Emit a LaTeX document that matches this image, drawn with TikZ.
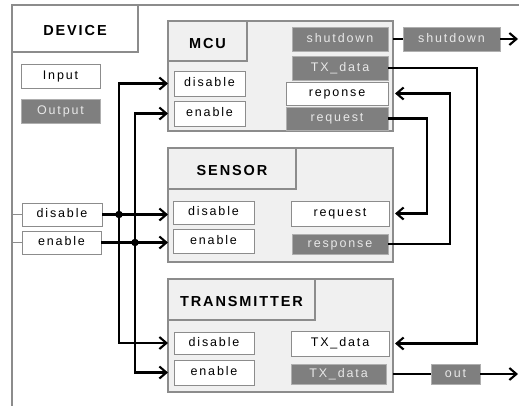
\documentclass[tikz,border=0pt]{standalone}
\usepackage{fontspec}
\setmainfont{Liberation Sans}
\newfontfamily\lblfont[LetterSpace=15]{Liberation Sans}
\newfontfamily\ttlfont[LetterSpace=13]{Liberation Sans}
\usetikzlibrary{arrows.meta,calc}
\definecolor{framegray}{HTML}{8C8C8C}
\definecolor{modfill}{HTML}{F0F0F0}
\definecolor{outfill}{HTML}{7F7F7F}
\definecolor{outtext}{HTML}{E8E8E8}
\newcommand\lowtitle[1]{\lower3.5pt\hbox{#1}}
\begin{document}
\begin{tikzpicture}[x=1pt,y=-1pt,
  box/.style 2 args={minimum width=#1,minimum height=#2,inner sep=0pt,outer sep=0pt,anchor=north west},
  lbl/.style={font=\lblfont\fontsize{12.5}{14}\selectfont,text height=1.5ex,text depth=0.25ex},
  inport/.style={lbl,draw=framegray,line width=0.9pt,fill=white},
  outport/.style={lbl,draw=framegray!70,line width=0.9pt,fill=outfill,text=outtext},
  module/.style={draw=framegray,line width=1.6pt,fill=modfill},
  ttl/.style={draw=framegray,line width=1.6pt,fill=modfill,text height=1.38ex,text depth=0pt,font=\ttlfont\bfseries\fontsize{14.5}{16}\selectfont},
  wire/.style={line width=2.1pt},
  arr/.style={-{Straight Barb[length=7pt,width=12pt]}},
  junction/.style={circle,fill,inner sep=0pt,minimum size=7.5pt}]
\useasboundingbox (0,0) rectangle (519,405);
\fill[white] (0,0) rectangle (519,405);
\clip (0,0) rectangle (519,405);
% device frame
\draw[framegray,line width=1.6pt] (12,420) -- (12,5) -- (530,5);
\node[ttl,box={126}{47},fill=white] (devt) at (12,5) {\lowtitle{DEVICE}};
\node[inport,box={79}{24}] (leg1) at (21,64) {Input};
\node[outport,box={79}{24}] (leg2) at (21,99) {Output};
% MCU
\node[module,box={225}{110}] (mcu) at (168,21) {};
\node[ttl,box={79}{40}] (mcut) at (168,21) {\lowtitle{MCU}};
\node[inport,box={71}{25}] (mcudis) at (174,71) {disable};
\node[inport,box={71}{25}] (mcuen) at (174,101) {enable};
\node[outport,box={96}{24}] (mcushut) at (292,27) {shutdown};
\node[outport,box={96}{24}] (mcutx) at (292,56) {TX\_data};
\node[inport,box={102}{23}] (mcuresp) at (286,82) {reponse};
\node[outport,box={102}{23}] (mcureq) at (286,107) {request};
\node[outport,box={97}{24}] (extshut) at (403,27) {shutdown};
% SENSOR
\node[module,box={225}{114}] (smod) at (168,148) {};
\node[ttl,box={128}{41}] (st) at (168,148) {\lowtitle{SENSOR}};
\node[inport,box={81}{23}] (sdis) at (173,201) {disable};
\node[inport,box={81}{24}] (sen) at (173,229) {enable};
\node[inport,box={98}{25}] (sreq) at (291,201) {request};
\node[outport,box={96}{20}] (sresp) at (292,234) {response};
% TRANSMITTER
\node[module,box={225}{113}] (tmod) at (168,279) {};
\node[ttl,box={147}{41}] (tt) at (168,279) {\lowtitle{TRANSMITTER}};
\node[inport,box={80}{22}] (tdis) at (174,332) {disable};
\node[inport,box={80}{25}] (ten) at (174,360) {enable};
\node[inport,box={98}{25}] (ttxin) at (291,331) {TX\_data};
\node[outport,box={95}{20}] (ttxout) at (291,364) {TX\_data};
\node[outport,box={49}{20}] (outb) at (431,364) {out};
% external inputs
\node[inport,box={80}{23}] (ldis) at (22,203) {disable};
\node[inport,box={79}{23}] (len) at (22,231) {enable};
\draw[framegray,line width=1.2pt] (ldis.west) -- ++(-10,0);
\draw[framegray,line width=1.2pt] (len.west) -- ++(-10,0);
% buses
\coordinate (jd) at ($(ldis.east)+(17,0)$);
\coordinate (je) at ($(len.east)+(34,0)$);
\draw[wire,arr] (ldis.east) -- (smod.west |- ldis);
\draw[wire,arr] (len.east) -- (smod.west |- len);
\draw[wire,arr] (jd) |- (mcu.west |- mcudis);
\draw[wire,arr] (je) |- (mcu.west |- mcuen);
\draw[wire,arr] (jd) |- (tmod.west |- tdis);
\draw[wire,arr] (je) |- (tmod.west |- ten);
\node[junction] (jdn) at (jd) {};
\node[junction] (jen) at (je) {};
% right side
\draw[wire] (mcu.east |- mcushut) -- (extshut.west);
\draw[wire,arr] (extshut.east) -- ++(18,0) coordinate (shutend);
\draw[wire,arr] (mcutx.east) -- ++(89,0) |- ($(tmod.east |- ttxin)+(2,0)$);
\draw[wire,arr] (mcureq.east) -- ++(39,0) |- ($(smod.east |- sreq)+(2,0)$);
\draw[wire,arr] (sresp.east) -- ++(62,0) |- ($(mcu.east |- mcuresp)+(2,0)$);
\draw[wire] (tmod.east |- ttxout) -- (outb.west);
\draw[wire,arr] (outb.east) -- ++(38,0) coordinate (outend);
\end{tikzpicture}
\end{document}
